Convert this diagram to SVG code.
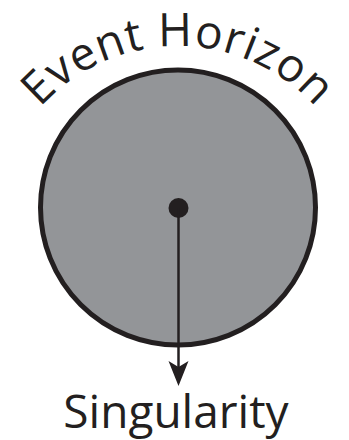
<svg xmlns="http://www.w3.org/2000/svg" width="349" height="440" viewBox="0 0 349 440">
  <style>
    .lbl { font-family: "Open Sans", "Noto Sans", "Liberation Sans", sans-serif; font-size: 46px; fill: #231f20; }
    .edge { stroke: #231f20; stroke-width: 2.5; fill: none; }
  </style>
  <defs>
    <path id="arcPath" d="M 17.8 138.5 A 185 185 0 0 1 338.2 138.5" fill="none"/>
  </defs>
  <rect width="349" height="440" fill="#ffffff"/>
  <g id="event-horizon">
    <circle cx="178" cy="207.5" r="137.5" fill="#939598" stroke="#231f20" stroke-width="5"/>
    <text class="lbl" letter-spacing="0.8"><textPath href="#arcPath" startOffset="50%" text-anchor="middle">Event Horizon</textPath></text>
  </g>
  <g id="singularity">
    <circle cx="178.5" cy="208" r="10" fill="#231f20"/>
    <text class="lbl" x="176" y="428" text-anchor="middle">Singularity</text>
  </g>
  <g id="connectors">
    <line class="edge" x1="178.5" y1="208" x2="178.5" y2="370"/>
    <polygon points="178.5,386 168.5,361 178.5,367 188.5,361" fill="#231f20"/>
  </g>
</svg>
